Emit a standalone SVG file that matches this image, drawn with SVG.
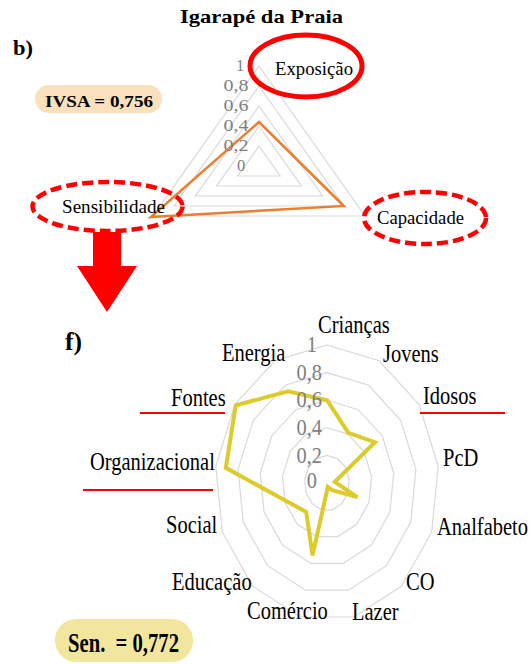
<svg xmlns="http://www.w3.org/2000/svg" width="532" height="664" viewBox="0 0 532 664">
<style>
text{font-family:"Liberation Serif","Times New Roman",serif;fill:#000}
.b{font-weight:bold}
.grid{fill:none;stroke:#d9d9d9;stroke-width:1.2}
.tk{fill:#7f7f7f}
.t1{font-size:18px}
.lb{font-size:25px}
.nb{font-size:24px;fill:#7f7f7f;text-anchor:end}
.ul{stroke:#ff0000;stroke-width:2}
.sol{fill:none;stroke:#ff0000;stroke-width:5}
.dash{fill:none;stroke:#ff0000;stroke-width:4.5;stroke-dasharray:11 5}
</style>
<defs>
<polygon id="tri" class="grid" vector-effect="non-scaling-stroke" points="0,-100 106,50 -106,50"/>
<polygon id="ring" class="grid" vector-effect="non-scaling-stroke" points="0,-138 52.05,-122.2 92.18,-78.4 111.18,-16.63 104.72,48.93 74.27,103.29 26.8,133.98 -26.8,133.98 -74.27,103.29 -104.72,48.93 -111.18,-16.63 -92.18,-78.4 -52.05,-122.2"/>
</defs>

<!-- Top chart -->
<g id="title">
<text class="b" x="180" y="23" font-size="19" textLength="163" lengthAdjust="spacingAndGlyphs">Igarapé da Praia</text>
<text class="b" x="13" y="55" font-size="21" textLength="20" lengthAdjust="spacingAndGlyphs">b)</text>
</g>
<g id="ivsa">
<rect x="35" y="85" width="127" height="28" rx="14" fill="#fae0bd"/>
<text class="b" x="45" y="107" font-size="16" textLength="108" lengthAdjust="spacingAndGlyphs">IVSA = 0,756</text>
</g>
<g id="radar-top" transform="translate(259,166)">
<use href="#tri" transform="scale(0.2)"/>
<use href="#tri" transform="scale(0.4)"/>
<use href="#tri" transform="scale(0.6)"/>
<use href="#tri" transform="scale(0.8)"/>
<use href="#tri"/>
<polygon points="0,-44 84.8,40 -108.1,51" fill="none" stroke="#ed7d31" stroke-width="2.5" stroke-linejoin="miter"/>
</g>
<g id="ticks-top" font-size="16.5">
<text class="tk" x="240" y="71" text-anchor="middle">1</text>
<text class="tk" x="236" y="91" text-anchor="middle" textLength="25" lengthAdjust="spacingAndGlyphs">0,8</text>
<text class="tk" x="236" y="111" text-anchor="middle" textLength="25" lengthAdjust="spacingAndGlyphs">0,6</text>
<text class="tk" x="236" y="131" text-anchor="middle" textLength="25" lengthAdjust="spacingAndGlyphs">0,4</text>
<text class="tk" x="236" y="151" text-anchor="middle" textLength="25" lengthAdjust="spacingAndGlyphs">0,2</text>
<text class="tk" x="241" y="171" text-anchor="middle">0</text>
</g>
<g id="exposicao">
<text class="t1" x="275" y="75" textLength="78" lengthAdjust="spacingAndGlyphs">Exposição</text>
<ellipse class="sol" cx="306" cy="66" rx="56" ry="31"/>
</g>
<g id="sensibilidade">
<text class="t1" x="62" y="213" textLength="103" lengthAdjust="spacingAndGlyphs">Sensibilidade</text>
<ellipse class="dash" cx="107.5" cy="206.5" rx="75" ry="24.5"/>
</g>
<g id="capacidade">
<text class="t1" x="377" y="224" textLength="87" lengthAdjust="spacingAndGlyphs">Capacidade</text>
<ellipse class="dash" cx="425" cy="218" rx="61" ry="26"/>
</g>

<!-- Arrow -->
<g id="connectors">
<polygon points="93,232 121,232 121,266 137,266 107,312 77,266 93,266" fill="#ff0000"/>
</g>

<!-- Bottom chart -->
<g id="flabel">
<text class="b" x="65" y="350" font-size="26" textLength="17" lengthAdjust="spacingAndGlyphs">f)</text>
</g>
<g id="radar-bottom" transform="translate(327,483)">
<use href="#ring" transform="scale(0.2)"/>
<use href="#ring" transform="scale(0.4)"/>
<use href="#ring" transform="scale(0.6)"/>
<use href="#ring" transform="scale(0.8)"/>
<use href="#ring"/>
<polygon points="0,-82.8 21.34,-50.1 47.93,-40.77 7.78,-1.16 30.37,14.19 5.2,7.23 0.8,4.02 -14.47,72.35 -20.8,28.92 -39.79,18.59 -101.17,-15.13 -91.26,-77.62 -39.04,-91.65" fill="none" stroke="#dccb2a" stroke-width="4" stroke-linejoin="miter"/>
</g>
<g id="ticks-bottom">
<text class="nb" transform="translate(317,352) scale(0.85,1)">1</text>
<text class="nb" transform="translate(322,380) scale(0.85,1)">0,8</text>
<text class="nb" transform="translate(322,407) scale(0.85,1)">0,6</text>
<text class="nb" transform="translate(322,435) scale(0.85,1)">0,4</text>
<text class="nb" transform="translate(322,463) scale(0.85,1)">0,2</text>
<text class="nb" transform="translate(317,488) scale(0.85,1)">0</text>
</g>
<g id="lab-criancas"><text class="lb" transform="translate(318,333) scale(0.82,1)">Crianças</text></g>
<g id="lab-jovens"><text class="lb" transform="translate(383,362) scale(0.82,1)">Jovens</text></g>
<g id="lab-idosos"><text class="lb" transform="translate(423,404) scale(0.82,1)">Idosos</text><line class="ul" x1="420" y1="413" x2="505" y2="413"/></g>
<g id="lab-pcd"><text class="lb" transform="translate(443,466) scale(0.82,1)">PcD</text></g>
<g id="lab-analfabeto"><text class="lb" transform="translate(437,535) scale(0.82,1)">Analfabeto</text></g>
<g id="lab-co"><text class="lb" transform="translate(406,590) scale(0.82,1)">CO</text></g>
<g id="lab-lazer"><text class="lb" transform="translate(352,620) scale(0.82,1)">Lazer</text></g>
<g id="lab-comercio"><text class="lb" transform="translate(247,619) scale(0.82,1)">Comércio</text></g>
<g id="lab-educacao"><text class="lb" transform="translate(172,590) scale(0.82,1)">Educação</text></g>
<g id="lab-social"><text class="lb" transform="translate(166,533) scale(0.82,1)">Social</text></g>
<g id="lab-organizacional"><text class="lb" transform="translate(90,470) scale(0.82,1)">Organizacional</text><line class="ul" x1="83" y1="490" x2="213" y2="490"/></g>
<g id="lab-fontes"><text class="lb" transform="translate(171,406) scale(0.82,1)">Fontes</text><line class="ul" x1="140" y1="413" x2="225" y2="413"/></g>
<g id="lab-energia"><text class="lb" transform="translate(222,361) scale(0.82,1)">Energia</text></g>
<g id="sen">
<rect x="55" y="619" width="138" height="43" rx="21" fill="#f2e69e"/>
<text class="b" x="68" y="652" font-size="27" textLength="111" lengthAdjust="spacingAndGlyphs" xml:space="preserve">Sen.  = 0,772</text>
</g>
</svg>
